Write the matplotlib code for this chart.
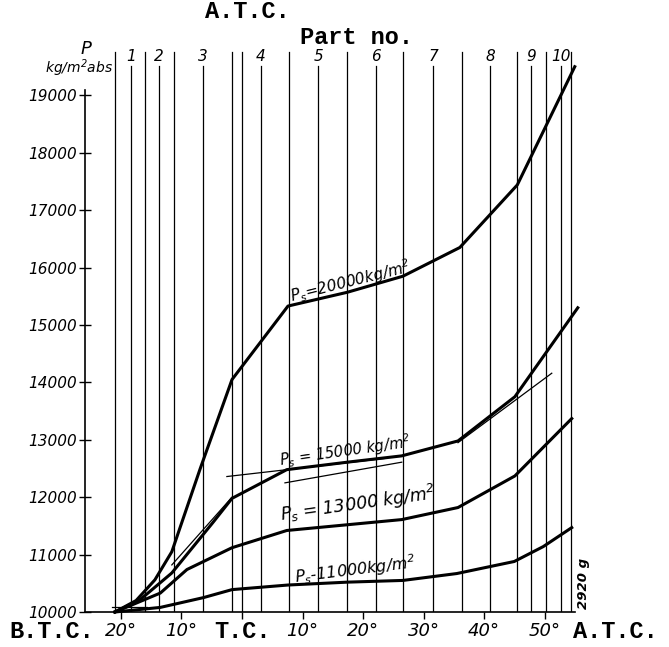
import matplotlib
matplotlib.use("Agg")
import matplotlib.pyplot as plt
import matplotlib.transforms as mtransforms

# crank angle in degrees (negative = before top centre), pressure in kg/m2 abs
deg_20000 = [-21, -17.5, -14.4, -11.6, -6.9, -1.65, 7.6, 17.4, 26.6, 36.0, 45.5, 55.0]
p_20000 = [10000, 10200, 10560, 11050, 12500, 14050, 15330, 15570, 15850, 16350, 17440, 19500]

deg_15000 = [-21, -17, -11.6, -4.8, -1.65, 7.4, 17.4, 26.4, 35.7, 45.1, 55.5]
p_15000 = [10000, 10200, 10680, 11560, 11980, 12480, 12610, 12720, 12980, 13750, 15300]

deg_13000 = [-21, -13.5, -9.1, -1.65, 7.4, 17.4, 26.4, 35.7, 45.1, 54.5]
p_13000 = [10000, 10330, 10740, 11120, 11420, 11520, 11610, 11820, 12370, 13370]

deg_11000 = [-21, -13.5, -6.4, -1.65, 7.6, 17.4, 26.6, 35.5, 45.0, 49.8, 54.5]
p_11000 = [10000, 10080, 10250, 10390, 10470, 10520, 10550, 10670, 10880, 11140, 11470]

# thin construction lines drawn along the 15000 curve
helper_lines = [
    ([-2.5, 24.0], [12360, 12680]),
    ([7.1, 26.4], [12250, 12610]),
    ([35.7, 51.2], [12950, 14160]),
    ([-11.6, -1.65], [10820, 12000]),
    ([-21.5, -15.7], [10090, 10090]),
]

# part boundaries and part centre lines (crank angle)
part_edges = [-21.0, -16.0, -11.2, -1.65, 0, 7.8, 17.4, 26.6, 36.4, 45.5, 50.2, 54.4]
part_centres = [-18.3, -13.7, -6.4, 3.1, 12.6, 22.1, 31.6, 41.0, 47.8, 52.7]
part_names = ["1", "2", "3", "4", "5", "6", "7", "8", "9", "10"]

y_ticks = [10000, 11000, 12000, 13000, 14000, 15000, 16000, 17000, 18000, 19000]
x_ticks = [-20, -10, 0, 10, 20, 30, 40, 50]
x_tick_labels = ["20°", "10°", "", "10°", "20°", "30°", "40°", "50°"]

plt.rcParams["mathtext.fontset"] = "custom"
plt.rcParams["mathtext.it"] = "DejaVu Sans:italic"
plt.rcParams["mathtext.rm"] = "DejaVu Sans:italic"

W, H = 669, 647
fig = plt.figure(figsize=(W / 100, H / 100), dpi=100)
ax = fig.add_axes([85 / W, 35 / H, 490 / W, 574 / H])
ax.set_xlim(-25.95, 55.04)
ax.set_ylim(10000, 20000)

for x in part_edges:
    ax.plot([x, x], [10000, 19750], color="black", lw=0.9)
for x in part_centres:
    ax.plot([x, x], [10000, 19520], color="black", lw=0.9)
for x, name in zip(part_centres, part_names):
    ax.text(x, 19680, name, ha="center", va="center", fontsize=11,
            style="italic")

for d, p in [(deg_20000, p_20000), (deg_15000, p_15000),
             (deg_13000, p_13000), (deg_11000, p_11000)]:
    ax.plot(d, p, color="black", lw=2.2, clip_on=False,
            solid_joinstyle="round")

for d, p in helper_lines:
    ax.plot(d, p, color="black", lw=0.9, clip_on=False)

ax.text(17.9, 15760, r"$P_s$=20000kg/m$^2$", rotation=14, ha="center",
        va="center", fontsize=11, style="italic")
ax.text(17.0, 12800, r"$P_s$ = 15000 kg/m$^2$", rotation=8, ha="center",
        va="center", fontsize=10.5, style="italic")
ax.text(19.2, 11880, r"$P_s$ = 13000 kg/m$^2$", rotation=8, ha="center",
        va="center", fontsize=12.5, style="italic")
ax.text(18.7, 10740, r"$P_s$-11000kg/m$^2$", rotation=7, ha="center",
        va="center", fontsize=11.5, style="italic")
ax.text(56.4, 10490, "2920 g", rotation=90, ha="center", va="center",
        fontsize=9.5, style="italic", weight="bold", clip_on=False)

for side in ["top", "right"]:
    ax.spines[side].set_visible(False)
ax.spines["left"].set_bounds(10000, 19100)
ax.spines["left"].set_linewidth(1.2)
ax.spines["bottom"].set_linewidth(1.2)

ax.set_yticks(y_ticks)
ax.set_yticklabels([str(v) for v in y_ticks], style="italic", fontsize=11)
ax.tick_params(axis="y", direction="inout", length=8, width=1, pad=2)
ax.set_xticks(x_ticks)
ax.set_xticklabels(x_tick_labels, style="italic", fontsize=13)
ax.tick_params(axis="x", direction="out", length=5, width=1, pad=2)

mono = dict(family="Liberation Mono", weight="bold", fontsize=17)
trans = mtransforms.blended_transform_factory(ax.transData, fig.transFigure)
ax.text(0, 1 - 632 / H, "T.C.", transform=trans, ha="center", va="center",
        **mono)
fig.text(52 / W, 1 - 632 / H, "B.T.C.", ha="center", va="center", **mono)
fig.text(615 / W, 1 - 632 / H, "A.T.C.", ha="center", va="center", **mono)
fig.text(247 / W, 1 - 12 / H, "A.T.C.", ha="center", va="center", **mono)
fig.text(357 / W, 1 - 37 / H, "Part no.", ha="center", va="center", **mono)

fig.text(86 / W, 1 - 49 / H, "P", ha="center", va="center", fontsize=13,
         style="italic")
fig.text(113 / W, 1 - 68 / H, "kg/m$^2$abs", ha="right", va="center",
         fontsize=10, style="italic")

fig.savefig("out.png", dpi=100)
